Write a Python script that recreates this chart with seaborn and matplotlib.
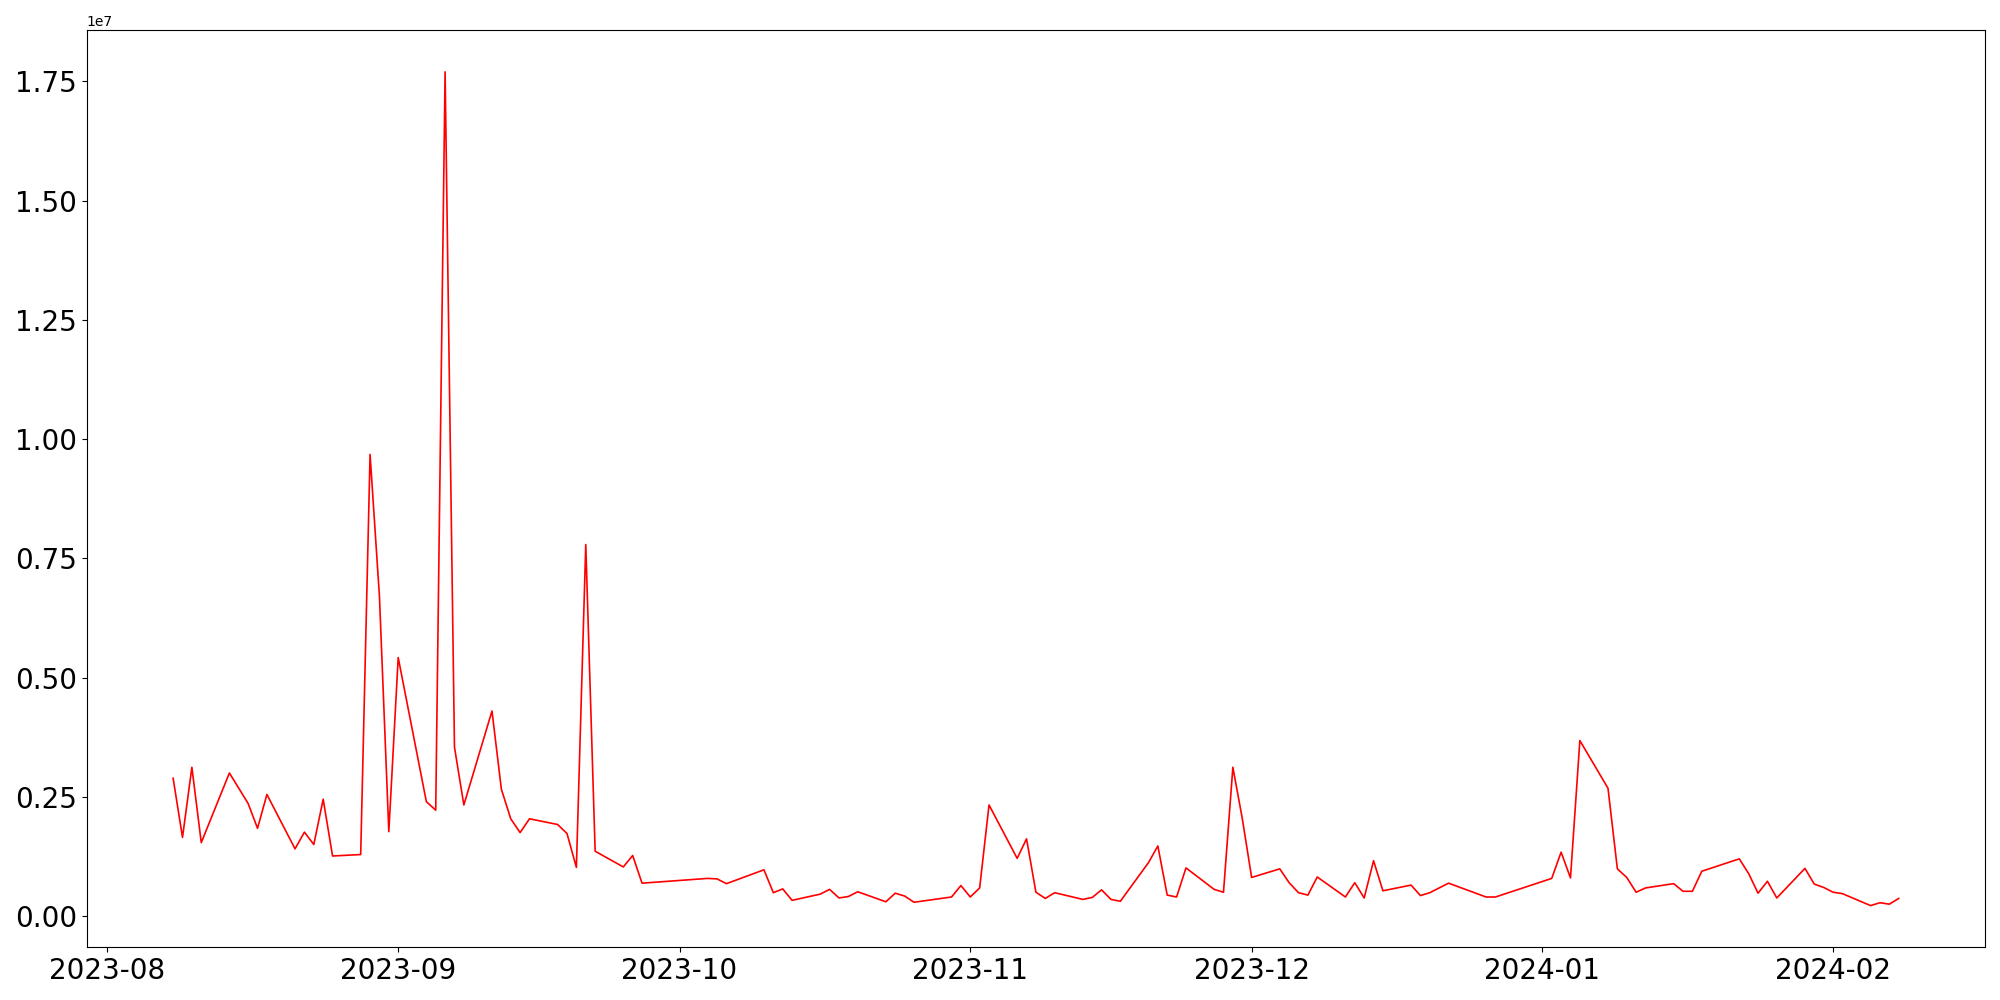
import pandas as pd
import matplotlib
matplotlib.use("Agg")
import matplotlib.pyplot as plt
import seaborn as sns

# trading days
dates = [
    "2023-08-08", "2023-08-09", "2023-08-10", "2023-08-11", "2023-08-14",
    "2023-08-16", "2023-08-17", "2023-08-18", "2023-08-21", "2023-08-22",
    "2023-08-23", "2023-08-24", "2023-08-25", "2023-08-28", "2023-08-29",
    "2023-08-30", "2023-08-31", "2023-09-01", "2023-09-04", "2023-09-05",
    "2023-09-06", "2023-09-07", "2023-09-08", "2023-09-11", "2023-09-12",
    "2023-09-13", "2023-09-14", "2023-09-15", "2023-09-18", "2023-09-19",
    "2023-09-20", "2023-09-21", "2023-09-22", "2023-09-25", "2023-09-26",
    "2023-09-27", "2023-10-04", "2023-10-05", "2023-10-06", "2023-10-10",
    "2023-10-11", "2023-10-12", "2023-10-13", "2023-10-16", "2023-10-17",
    "2023-10-18", "2023-10-19", "2023-10-20", "2023-10-23", "2023-10-24",
    "2023-10-25", "2023-10-26", "2023-10-30", "2023-10-31", "2023-11-01",
    "2023-11-02", "2023-11-03", "2023-11-06", "2023-11-07", "2023-11-08",
    "2023-11-09", "2023-11-10", "2023-11-13", "2023-11-14", "2023-11-15",
    "2023-11-16", "2023-11-17", "2023-11-20", "2023-11-21", "2023-11-22",
    "2023-11-23", "2023-11-24", "2023-11-27", "2023-11-28", "2023-11-29",
    "2023-11-30", "2023-12-01", "2023-12-04", "2023-12-05", "2023-12-06",
    "2023-12-07", "2023-12-08", "2023-12-11", "2023-12-12", "2023-12-13",
    "2023-12-14", "2023-12-15", "2023-12-18", "2023-12-19", "2023-12-20",
    "2023-12-22", "2023-12-26", "2023-12-27", "2024-01-02", "2024-01-03",
    "2024-01-04", "2024-01-05", "2024-01-08", "2024-01-09", "2024-01-10",
    "2024-01-11", "2024-01-12", "2024-01-15", "2024-01-16", "2024-01-17",
    "2024-01-18", "2024-01-22", "2024-01-23", "2024-01-24", "2024-01-25",
    "2024-01-26", "2024-01-29", "2024-01-30", "2024-01-31", "2024-02-01",
    "2024-02-02", "2024-02-05", "2024-02-06", "2024-02-07", "2024-02-08",
]

# volume in millions
volume_m = [
    2.89, 1.65, 3.12, 1.54, 3.00,
    2.36, 1.84, 2.55, 1.41, 1.76,
    1.50, 2.45, 1.26, 1.29, 9.68,
    6.70, 1.77, 5.42, 2.40, 2.22,
    17.70, 3.54, 2.33, 4.30, 2.66,
    2.04, 1.75, 2.04, 1.92, 1.73,
    1.02, 7.79, 1.36, 1.03, 1.27,
    0.69, 0.79, 0.78, 0.68, 0.97,
    0.49, 0.57, 0.33, 0.46, 0.56,
    0.38, 0.41, 0.51, 0.30, 0.48,
    0.42, 0.29, 0.40, 0.64, 0.40,
    0.59, 2.33, 1.21, 1.62, 0.50,
    0.37, 0.49, 0.35, 0.39, 0.55,
    0.35, 0.31, 1.12, 1.47, 0.44,
    0.40, 1.01, 0.56, 0.50, 3.12,
    2.05, 0.81, 0.99, 0.70, 0.49,
    0.44, 0.82, 0.40, 0.70, 0.38,
    1.16, 0.53, 0.65, 0.43, 0.49,
    0.69, 0.40, 0.40, 0.79, 1.34,
    0.80, 3.68, 2.68, 0.99, 0.81,
    0.50, 0.59, 0.68, 0.52, 0.52,
    0.94, 1.20, 0.89, 0.48, 0.73,
    0.38, 1.00, 0.67, 0.60, 0.50,
    0.47, 0.22, 0.28, 0.25, 0.37,
]

df = pd.DataFrame({"Date": pd.to_datetime(dates),
                   "Volume": [v * 1e6 for v in volume_m]})

plt.figure(figsize=(20, 10), dpi=100)
sns.lineplot(data=df, x="Date", y="Volume", color="red", linewidth=1.2)
plt.xlabel("")
plt.ylabel("")
plt.xticks(fontsize=20)
plt.yticks(fontsize=20)
plt.tight_layout()
plt.savefig("out.png")
